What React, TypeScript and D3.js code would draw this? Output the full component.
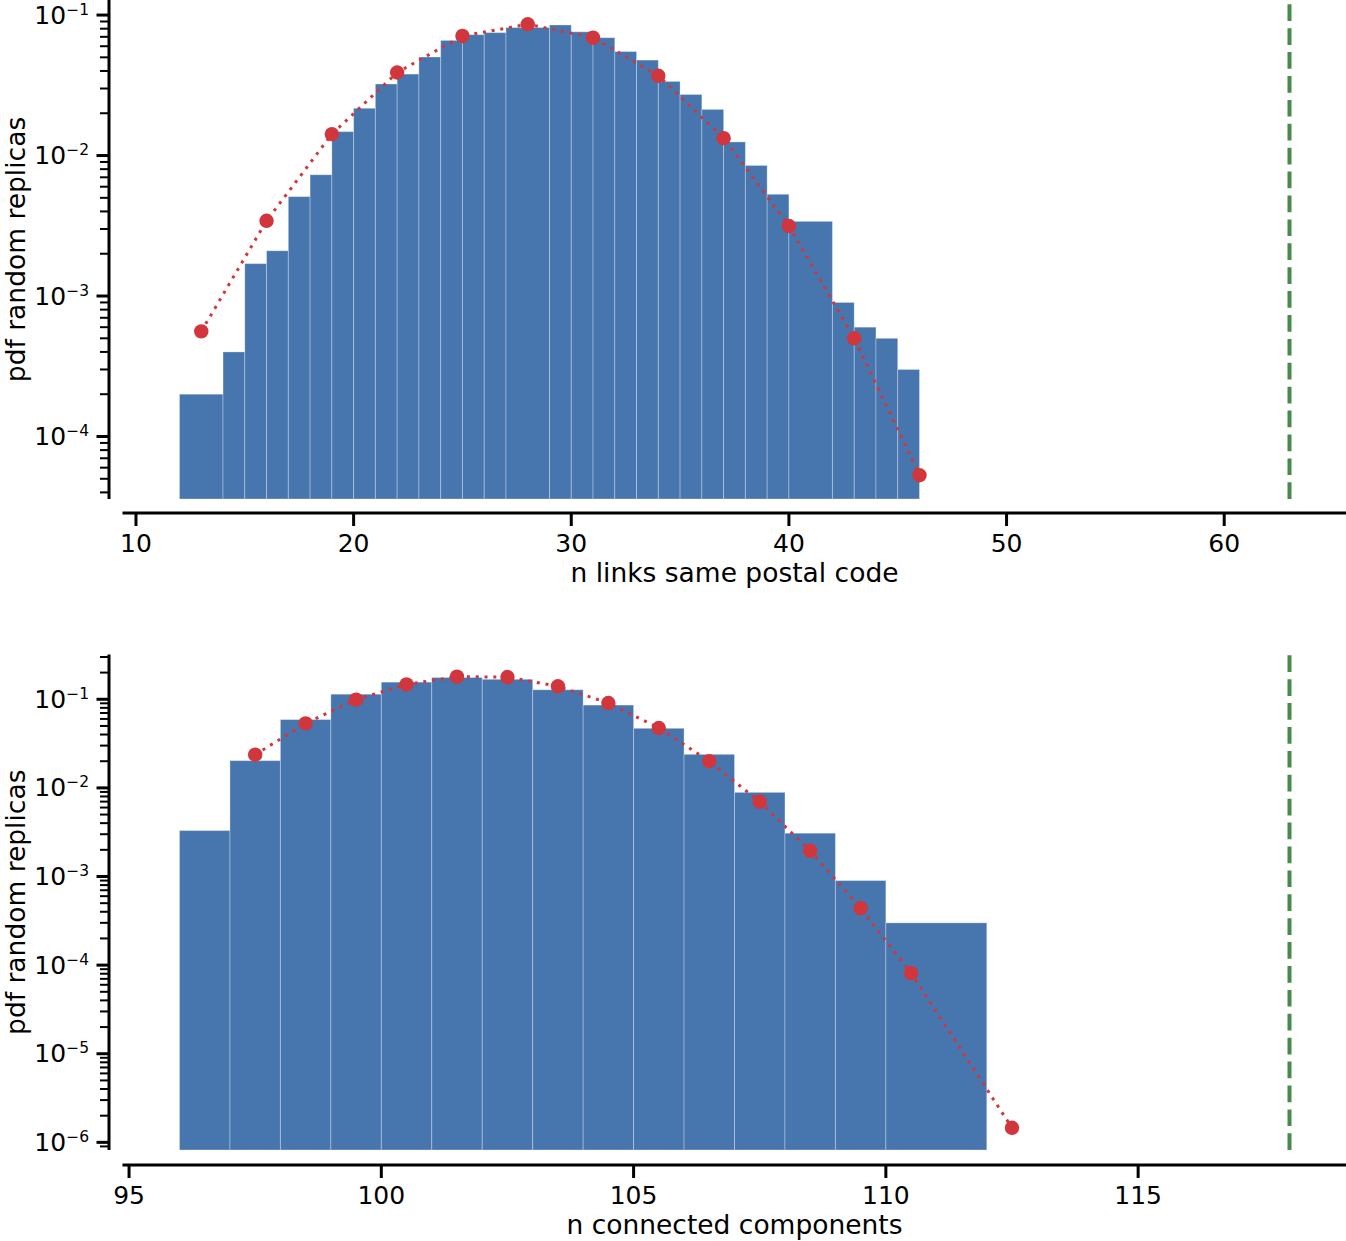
import React from "react";
import * as d3 from "d3";

// ---------- data: top panel ----------
const topBinEdges = [12, 14, 15, 16, 17, 18, 19, 20, 21, 22, 23, 24, 25, 26, 27, 29, 30, 31, 32, 33, 34, 35, 36, 37, 38, 39, 40, 42, 43, 44, 45, 46];
const topDensity = [2.0e-4, 4.0e-4, 1.7e-3, 2.1e-3, 5.1e-3, 7.3e-3, 1.48e-2, 2.17e-2, 3.23e-2, 3.8e-2, 5.03e-2, 6.6e-2, 7.25e-2, 7.5e-2, 8.15e-2, 8.5e-2, 7.6e-2, 6.9e-2, 5.5e-2, 4.78e-2, 3.37e-2, 2.72e-2, 2.13e-2, 1.25e-2, 8.5e-3, 5.3e-3, 3.4e-3, 9.0e-4, 6.0e-4, 5.0e-4, 3.0e-4];
const topPointX = [13, 16, 19, 22, 25, 28, 31, 34, 37, 40, 43, 46];
const topPointY = [5.6e-4, 3.43e-3, 1.42e-2, 3.9e-2, 7.1e-2, 8.6e-2, 6.9e-2, 3.7e-2, 1.33e-2, 3.15e-3, 5.0e-4, 5.3e-5];
const topObserved = 63;
const topXTicks = [10, 20, 30, 40, 50, 60];
const topYTicksExp = [-4, -3, -2, -1];
const topXLabel = "n links same postal code";

// ---------- data: bottom panel ----------
const botBinEdges = [96, 97, 98, 99, 100, 101, 102, 103, 104, 105, 106, 107, 108, 109, 110, 112];
const botDensity = [3.3e-3, 2.03e-2, 5.9e-2, 1.14e-1, 1.56e-1, 1.76e-1, 1.68e-1, 1.28e-1, 8.6e-2, 4.7e-2, 2.39e-2, 8.9e-3, 3.08e-3, 9.0e-4, 3.0e-4];
const botPointX = [97.5, 98.5, 99.5, 100.5, 101.5, 102.5, 103.5, 104.5, 105.5, 106.5, 107.5, 108.5, 109.5, 110.5, 112.5];
const botPointY = [2.37e-2, 5.35e-2, 9.9e-2, 1.47e-1, 1.8e-1, 1.78e-1, 1.4e-1, 9.06e-2, 4.74e-2, 2.0e-2, 6.97e-3, 1.95e-3, 4.39e-4, 8.13e-5, 1.46e-6];
const botObserved = 118;
const botXTicks = [95, 100, 105, 110, 115];
const botYTicksExp = [-6, -5, -4, -3, -2, -1];
const botXLabel = "n connected components";

const yLabel = "pdf random replicas";

const BAR = "#4775ad";
const RED = "#d1363c";
const GREEN = "#478a4a";
const FONT = "DejaVu Sans, sans-serif";

type PanelProps = {
  edges: number[];
  dens: number[];
  px: number[];
  py: number[];
  obs: number;
  xTicks: number[];
  yExp: number[];
  xLabel: string;
  xDomain: [number, number];
  yDomain: [number, number];
  top: number;
  bottom: number;
  xAxisY: number;
};

function Panel(p: PanelProps) {
  const left = 124, right = 1345, spineX = 109;
  const x = d3.scaleLinear().domain(p.xDomain).range([left, right]);
  const y = d3.scaleLog().domain(p.yDomain).range([p.bottom, p.top]);
  const [ymin, ymax] = p.yDomain;
  const minor: number[] = [];
  for (let e = -8; e <= 0; e++) {
    for (let m = 2; m <= 9; m++) {
      const v = m * Math.pow(10, e);
      if (v >= ymin && v <= ymax) minor.push(v);
    }
  }
  const line = d3.line<number>().x((_, i) => x(p.px[i])).y((d) => y(d));
  return (
    <g>
      {p.dens.map((d, i) => (
        <rect key={"b" + i} x={x(p.edges[i])} y={y(d)} width={x(p.edges[i + 1]) - x(p.edges[i])}
          height={p.bottom - y(d)} fill={BAR} stroke="#ffffff" strokeOpacity={0.3} strokeWidth={1} />
      ))}
      <path d={line(p.py) || ""} fill="none" stroke={RED} strokeWidth={3} strokeDasharray="3 5.8" />
      {p.py.map((d, i) => (
        <circle key={"c" + i} cx={x(p.px[i])} cy={y(d)} r={7.2} fill={RED} />
      ))}
      <line x1={x(p.obs)} x2={x(p.obs)} y1={p.bottom} y2={p.top} stroke={GREEN} strokeWidth={4}
        strokeDasharray="16.7 7.2" />
      {/* y spine */}
      <line x1={spineX} x2={spineX} y1={p.top} y2={p.bottom} stroke="#000" strokeWidth={3} />
      {minor.map((v, i) => (
        <line key={"m" + i} x1={spineX - 9} x2={spineX} y1={y(v)} y2={y(v)} stroke="#000" strokeWidth={2} />
      ))}
      {p.yExp.map((e) => {
        const yy = y(Math.pow(10, e));
        return (
          <g key={"y" + e}>
            <line x1={spineX - 12.5} x2={spineX} y1={yy} y2={yy} stroke="#000" strokeWidth={3} />
            <text x={89} y={yy + 8.5} textAnchor="end" fontFamily={FONT} fontSize={25} fill="#000">
              <tspan>10</tspan>
              <tspan dy={-9} fontSize={15.5}>{"\u2212" + Math.abs(e)}</tspan>
            </text>
          </g>
        );
      })}
      <text transform={`translate(25,${(p.top + p.bottom) / 2}) rotate(-90)`} textAnchor="middle"
        fontFamily={FONT} fontSize={26.5} fill="#000">{yLabel}</text>
      {/* x spine */}
      <line x1={122.5} x2={1346} y1={p.xAxisY} y2={p.xAxisY} stroke="#000" strokeWidth={3} />
      {p.xTicks.map((t) => (
        <g key={"x" + t}>
          <line x1={x(t)} x2={x(t)} y1={p.xAxisY} y2={p.xAxisY + 13} stroke="#000" strokeWidth={3} />
          <text x={x(t)} y={p.xAxisY + 39} textAnchor="middle" fontFamily={FONT} fontSize={25} fill="#000">{t}</text>
        </g>
      ))}
      <text x={(left + right) / 2} y={p.xAxisY + 69} textAnchor="middle" fontFamily={FONT} fontSize={26.5} fill="#000">
        {p.xLabel}
      </text>
    </g>
  );
}

export default function App() {
  return (
    <svg width={1346} height={1241} style={{ position: "absolute", left: 0, top: 0, background: "#fff" }}>
      <rect x={0} y={0} width={1346} height={1241} fill="#fff" />
      <Panel edges={topBinEdges} dens={topDensity} px={topPointX} py={topPointY} obs={topObserved}
        xTicks={topXTicks} yExp={topYTicksExp} xLabel={topXLabel}
        xDomain={[9.45, 65.55]} yDomain={[3.59e-5, 0.128]} top={0} bottom={499} xAxisY={513} />
      <Panel edges={botBinEdges} dens={botDensity} px={botPointX} py={botPointY} obs={botObserved}
        xTicks={botXTicks} yExp={botYTicksExp} xLabel={botXLabel}
        xDomain={[94.9, 119.1]} yDomain={[8.2e-7, 0.32]} top={654.5} bottom={1150} xAxisY={1165} />
    </svg>
  );
}
